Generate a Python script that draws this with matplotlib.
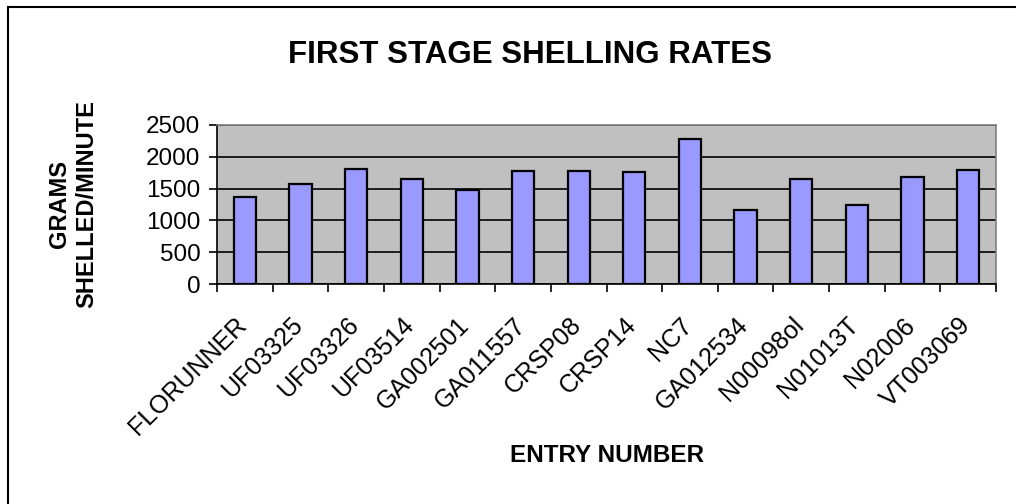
import matplotlib.pyplot as plt
import numpy as np
from matplotlib.lines import Line2D
from matplotlib.transforms import ScaledTranslation

plt.rcParams['font.family'] = ['Liberation Sans', 'DejaVu Sans']

entries = ['FLORUNNER', 'UF03325', 'UF03326', 'UF03514', 'GA002501', 'GA011557',
           'CRSP08', 'CRSP14', 'NC7', 'GA012534', 'N00098ol', 'N01013T',
           'N02006', 'VT003069']
rates = [1365, 1565, 1810, 1650, 1475, 1780, 1780, 1760, 2280, 1160, 1650,
         1235, 1680, 1795]
yticks = [0, 500, 1000, 1500, 2000, 2500]

fig = plt.figure(figsize=(10.16, 5.04), dpi=100)
ax = fig.add_axes([0.2136, 0.4365, 0.7667, 0.3155])

x = np.arange(len(entries))
ax.set_facecolor('#C0C0C0')
ax.bar(x, rates, width=0.4, color='#9999FF', edgecolor='black', linewidth=1.6, zorder=3)

ax.set_xlim(-0.5, len(entries) - 0.5)
ax.set_ylim(0, 2500)
ax.set_yticks(yticks)
ax.yaxis.grid(True, color='black', linewidth=1.2, zorder=1)
ax.set_axisbelow(True)

# ticks between categories, labels at centres
ax.set_xticks(np.arange(len(entries) + 1) - 0.5)
ax.set_xticklabels([])
ax.set_xticks(x, minor=True)
ax.set_xticklabels(entries, minor=True, rotation=45, ha='right', va='top',
                   rotation_mode='anchor', fontsize=18)
ax.tick_params(axis='x', which='minor', length=0, pad=21)
ax.tick_params(axis='x', which='major', length=6, width=1.2, direction='out')
ax.tick_params(axis='y', length=6, width=1.2, labelsize=17.5, pad=6)
shift = ScaledTranslation(-10 / 100, 0, fig.dpi_scale_trans)
for lab in ax.get_xticklabels(minor=True):
    lab.set_transform(lab.get_transform() + shift)

for s in ['top', 'right']:
    ax.spines[s].set_color('#808080')
    ax.spines[s].set_linewidth(1.2)
for s in ['left', 'bottom']:
    ax.spines[s].set_color('black')
    ax.spines[s].set_linewidth(1.2)

fig.text(0.522, 0.891, 'FIRST STAGE SHELLING RATES', ha='center', va='center',
         fontsize=22.5, fontweight='bold')
fig.text(0.597, 0.097, 'ENTRY NUMBER', ha='center', va='center',
         fontsize=17.5, fontweight='bold')
fig.text(0.072, 0.595, 'GRAMS\nSHELLED/MINUTE', ha='center', va='center',
         rotation=90, fontsize=17, fontweight='bold', linespacing=1.25)

# chart frame (right and bottom edges fall outside the picture)
fig.add_artist(Line2D([0.008, 0.008], [0.0, 0.986], transform=fig.transFigure,
                      color='black', linewidth=1.5))
fig.add_artist(Line2D([0.008, 1.0], [0.986, 0.986], transform=fig.transFigure,
                      color='black', linewidth=1.5))

fig.savefig('out.png', dpi=100)
